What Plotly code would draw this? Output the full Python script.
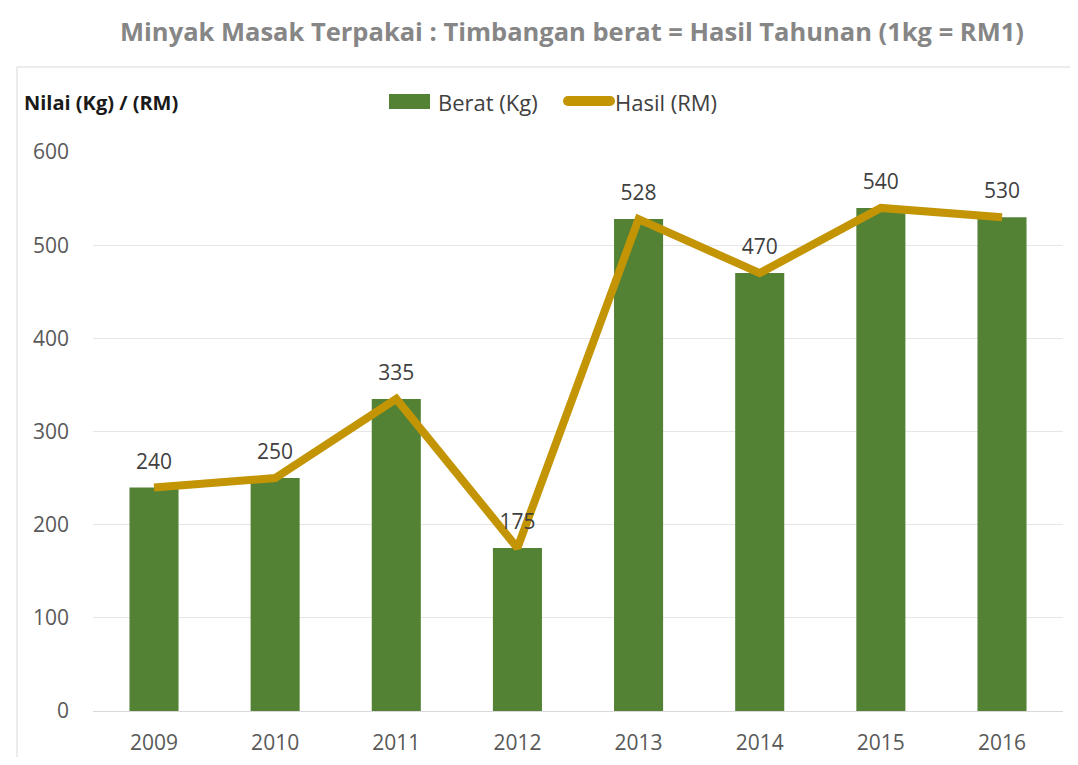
import plotly.graph_objects as go

years = ["2009", "2010", "2011", "2012", "2013", "2014", "2015", "2016"]
berat_kg = [240, 250, 335, 175, 528, 470, 540, 530]
hasil_rm = [240, 250, 335, 175, 528, 470, 540, 530]
y_ticks = [0, 100, 200, 300, 400, 500, 600]

# page body has an 8px margin; figure coordinates = page coordinates - 8
OFF = 8
W, H = 1062, 749
L, R, T, B = 85, 7, 144, 46
pw = W - L - R
ph = H - T - B

GREEN = "#548235"
GOLD = "#c39505"


def fx(page_x):
    return (page_x - OFF - L) / pw


def fy(page_y):
    return (H - B - (page_y - OFF)) / ph


fig = go.Figure()
fig.add_trace(go.Bar(
    x=years, y=berat_kg, name="Berat (Kg)",
    marker=dict(color=GREEN, line=dict(width=0)),
))
fig.add_trace(go.Scatter(
    x=years, y=hasil_rm, name="Hasil (RM)", mode="lines+markers+text",
    line=dict(color=GOLD, width=8),
    marker=dict(size=20, color="rgba(0,0,0,0)"),
    text=[str(v) for v in hasil_rm], textposition="top center",
    textfont=dict(size=21, color="#404040", family="Open Sans"),
    cliponaxis=False,
))

fig.update_layout(
    width=W, height=H,
    margin=dict(l=L, r=R, t=T, b=B, autoexpand=False),
    paper_bgcolor="white", plot_bgcolor="white",
    font=dict(family="Open Sans", color="#595959"),
    bargap=0.595,
    showlegend=False,
    title=dict(
        text="<b>Minyak Masak Terpakai : Timbangan berat = Hasil Tahunan (1kg = RM1)</b>",
        x=(572 - OFF) / W, xanchor="center", y=1 - (32 - OFF) / H, yanchor="middle",
        font=dict(size=25.5, color="#868686", family="Open Sans"),
    ),
    xaxis=dict(
        showgrid=False, showline=False, ticks="", ticklabelstandoff=17,
        automargin=False,
        tickfont=dict(size=21, color="#595959"),
    ),
    yaxis=dict(
        range=[0, 600], tickvals=y_ticks, automargin=False,
        showgrid=True, gridcolor="#e6e6e6", gridwidth=1,
        zeroline=True, zerolinecolor="#d9d9d9", zerolinewidth=1,
        showline=False, ticks="", ticklabelstandoff=23,
        tickfont=dict(size=21, color="#595959"),
    ),
    shapes=[
        # chart frame
        dict(type="line", xref="paper", yref="paper",
             x0=fx(17), x1=fx(1090), y0=fy(67), y1=fy(67),
             line=dict(color="#d9d9d9", width=1)),
        dict(type="line", xref="paper", yref="paper",
             x0=fx(17), x1=fx(17), y0=fy(67), y1=fy(780),
             line=dict(color="#d9d9d9", width=1)),
        # legend swatches
        dict(type="rect", xref="paper", yref="paper",
             x0=fx(389), x1=fx(430), y0=fy(109), y1=fy(94),
             fillcolor=GREEN, line=dict(width=0)),
        dict(type="line", xref="paper", yref="paper",
             x0=fx(568), x1=fx(610), y0=fy(101), y1=fy(101),
             line=dict(color=GOLD, width=10)),
        dict(type="circle", xref="paper", yref="paper",
             x0=fx(563), x1=fx(573), y0=fy(106), y1=fy(96),
             fillcolor=GOLD, line=dict(width=0)),
        dict(type="circle", xref="paper", yref="paper",
             x0=fx(605), x1=fx(615), y0=fy(106), y1=fy(96),
             fillcolor=GOLD, line=dict(width=0)),
    ],
    annotations=[
        dict(text="<b>Nilai (Kg) / (RM)</b>", xref="paper", yref="paper",
             x=fx(22), y=fy(103), xanchor="left", yanchor="middle",
             showarrow=False,
             font=dict(size=20, color="#1a1a1a", family="Open Sans")),
        dict(text="Berat (Kg)", xref="paper", yref="paper",
             x=fx(436), y=fy(102), xanchor="left", yanchor="middle",
             showarrow=False,
             font=dict(size=22, color="#404040", family="Open Sans")),
        dict(text="Hasil (RM)", xref="paper", yref="paper",
             x=fx(613), y=fy(102), xanchor="left", yanchor="middle",
             showarrow=False,
             font=dict(size=22, color="#404040", family="Open Sans")),
    ],
)

fig.write_html("out.html")
